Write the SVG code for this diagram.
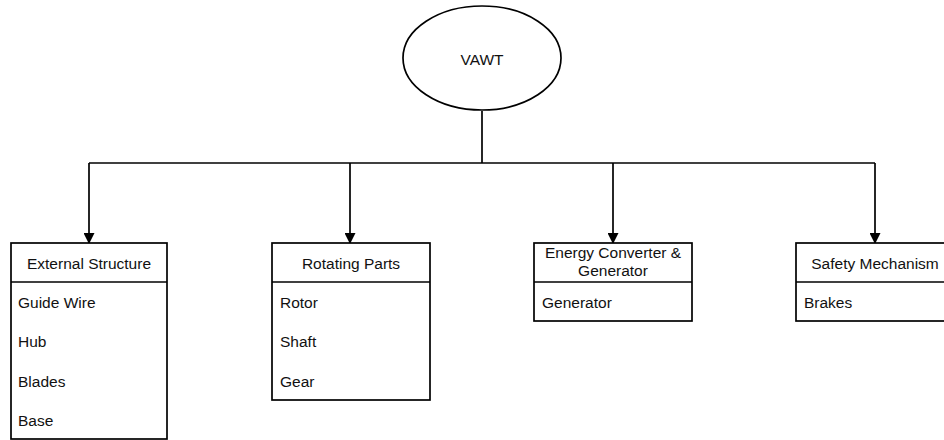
<svg xmlns="http://www.w3.org/2000/svg" width="944" height="440" viewBox="0 0 944 440">
<style>
.s{fill:#fff;stroke:#000;stroke-width:1.7}
.l{fill:none;stroke:#000;stroke-width:1.7}
text{font-family:"Liberation Sans",Arial,sans-serif;font-size:15.5px;fill:#111}
.c{text-anchor:middle}
</style>
<defs>
<marker id="a" markerWidth="11" markerHeight="11" refX="10" refY="5.5" orient="auto" markerUnits="userSpaceOnUse">
<path d="M0,0 L11,5.5 L0,11 Z" fill="#000"/>
</marker>
</defs>
<g id="connectors">
<path class="l" d="M482,111 V163"/>
<path class="l" d="M89,163 H875"/>
<path class="l" d="M89,163 V243" marker-end="url(#a)"/>
<path class="l" d="M350,163 V243" marker-end="url(#a)"/>
<path class="l" d="M613,163 V243" marker-end="url(#a)"/>
<path class="l" d="M875,163 V243" marker-end="url(#a)"/>
</g>
<g id="vawt">
<ellipse class="s" cx="482" cy="58" rx="79" ry="52"/>
<text class="c" x="482" y="65">VAWT</text>
</g>
<g id="external">
<rect class="s" x="11" y="243" width="156" height="196"/>
<line class="l" x1="11" y1="282" x2="167" y2="282"/>
<text class="c" x="89" y="269">External Structure</text>
<text x="18" y="308">Guide Wire</text>
<text x="18" y="347">Hub</text>
<text x="18" y="387">Blades</text>
<text x="18" y="426">Base</text>
</g>
<g id="rotating">
<rect class="s" x="272" y="243" width="158" height="157"/>
<line class="l" x1="272" y1="282" x2="430" y2="282"/>
<text class="c" x="351" y="269">Rotating Parts</text>
<text x="280" y="308">Rotor</text>
<text x="280" y="347">Shaft</text>
<text x="280" y="387">Gear</text>
</g>
<g id="energy">
<rect class="s" x="534" y="243" width="158" height="78"/>
<line class="l" x1="534" y1="282" x2="692" y2="282"/>
<text class="c" x="613" y="258">Energy Converter &amp;</text>
<text class="c" x="613" y="276">Generator</text>
<text x="542" y="308">Generator</text>
</g>
<g id="safety">
<rect class="s" x="796" y="243" width="158" height="78"/>
<line class="l" x1="796" y1="282" x2="954" y2="282"/>
<text class="c" x="875" y="269">Safety Mechanism</text>
<text x="804" y="308">Brakes</text>
</g>
</svg>
